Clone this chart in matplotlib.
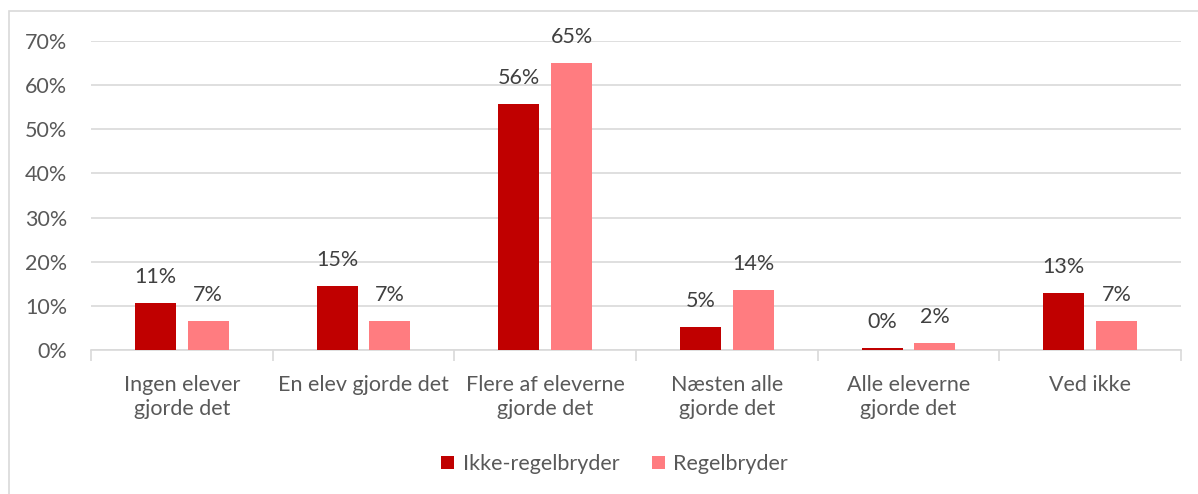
import numpy as np
import matplotlib.pyplot as plt
from matplotlib.patches import Rectangle

categories = ['Ingen elever\ngjorde det', 'En elev gjorde det', 'Flere af eleverne\ngjorde det',
              'Næsten alle\ngjorde det', 'Alle eleverne\ngjorde det', 'Ved ikke']
ikke_regelbryder = [10.7, 14.6, 55.8, 5.3, 0.4, 12.9]
regelbryder = [6.6, 6.6, 65.0, 13.6, 1.6, 6.6]
yticks = [0, 10, 20, 30, 40, 50, 60, 70]

dark = '#C00000'
pink = '#FF7C80'
txt = '#595959'
grid = '#D9D9D9'
fs = 15.5

plt.rcParams['font.family'] = ['Lato', 'DejaVu Sans']

fig = plt.figure(figsize=(11.98, 4.94), dpi=100)
# outer chart border (runs off the right and bottom edges)
fig.patches.append(Rectangle((9 / 1198, -0.1), 1.2, 1 - 11 / 494 + 0.1,
                             transform=fig.transFigure, fill=False,
                             edgecolor=grid, linewidth=1.2))

ax = fig.add_axes([91 / 1198, 1 - 350 / 494, 1090 / 1198, 309 / 494])
x = np.arange(len(categories))
w = 0.226
off = 0.145

b1 = ax.bar(x - off, ikke_regelbryder, w, color=dark, label='Ikke-regelbryder', zorder=3)
b2 = ax.bar(x + off, regelbryder, w, color=pink, label='Regelbryder', zorder=3)

for bars in (b1, b2):
    for r in bars:
        h = r.get_height()
        ax.text(r.get_x() + r.get_width() / 2, h + 3.6, f'{h:.0f}%', ha='center', va='bottom',
                fontsize=fs, color='#404040')

ax.set_xlim(-0.5, len(categories) - 0.5)
ax.set_ylim(0, 70)
ax.set_yticks(yticks)
ax.set_yticklabels([f'{t}%' for t in yticks], fontsize=fs, color=txt)
ax.yaxis.grid(True, color=grid, linewidth=1.2, zorder=0)
ax.tick_params(axis='y', length=0, pad=17)

ax.set_xticks(x)
ax.set_xticklabels(categories, fontsize=fs, color=txt, linespacing=1.25)
ax.tick_params(axis='x', length=0, pad=18)
# category separator ticks
ax.set_xticks(np.arange(len(categories) + 1) - 0.5, minor=True)
ax.tick_params(axis='x', which='minor', length=8, color=grid, width=1.2)

for s in ['top', 'right', 'left']:
    ax.spines[s].set_visible(False)
ax.spines['bottom'].set_color(grid)
ax.spines['bottom'].set_linewidth(1.2)

fig.legend(handles=[b1, b2], loc='center', bbox_to_anchor=(0.513, 1 - 464 / 494), ncol=2,
           frameon=False, fontsize=fs, labelcolor=txt, handlelength=0.6, handleheight=0.6,
           handletextpad=0.4, columnspacing=1.5)

fig.savefig('out.png', dpi=100)
